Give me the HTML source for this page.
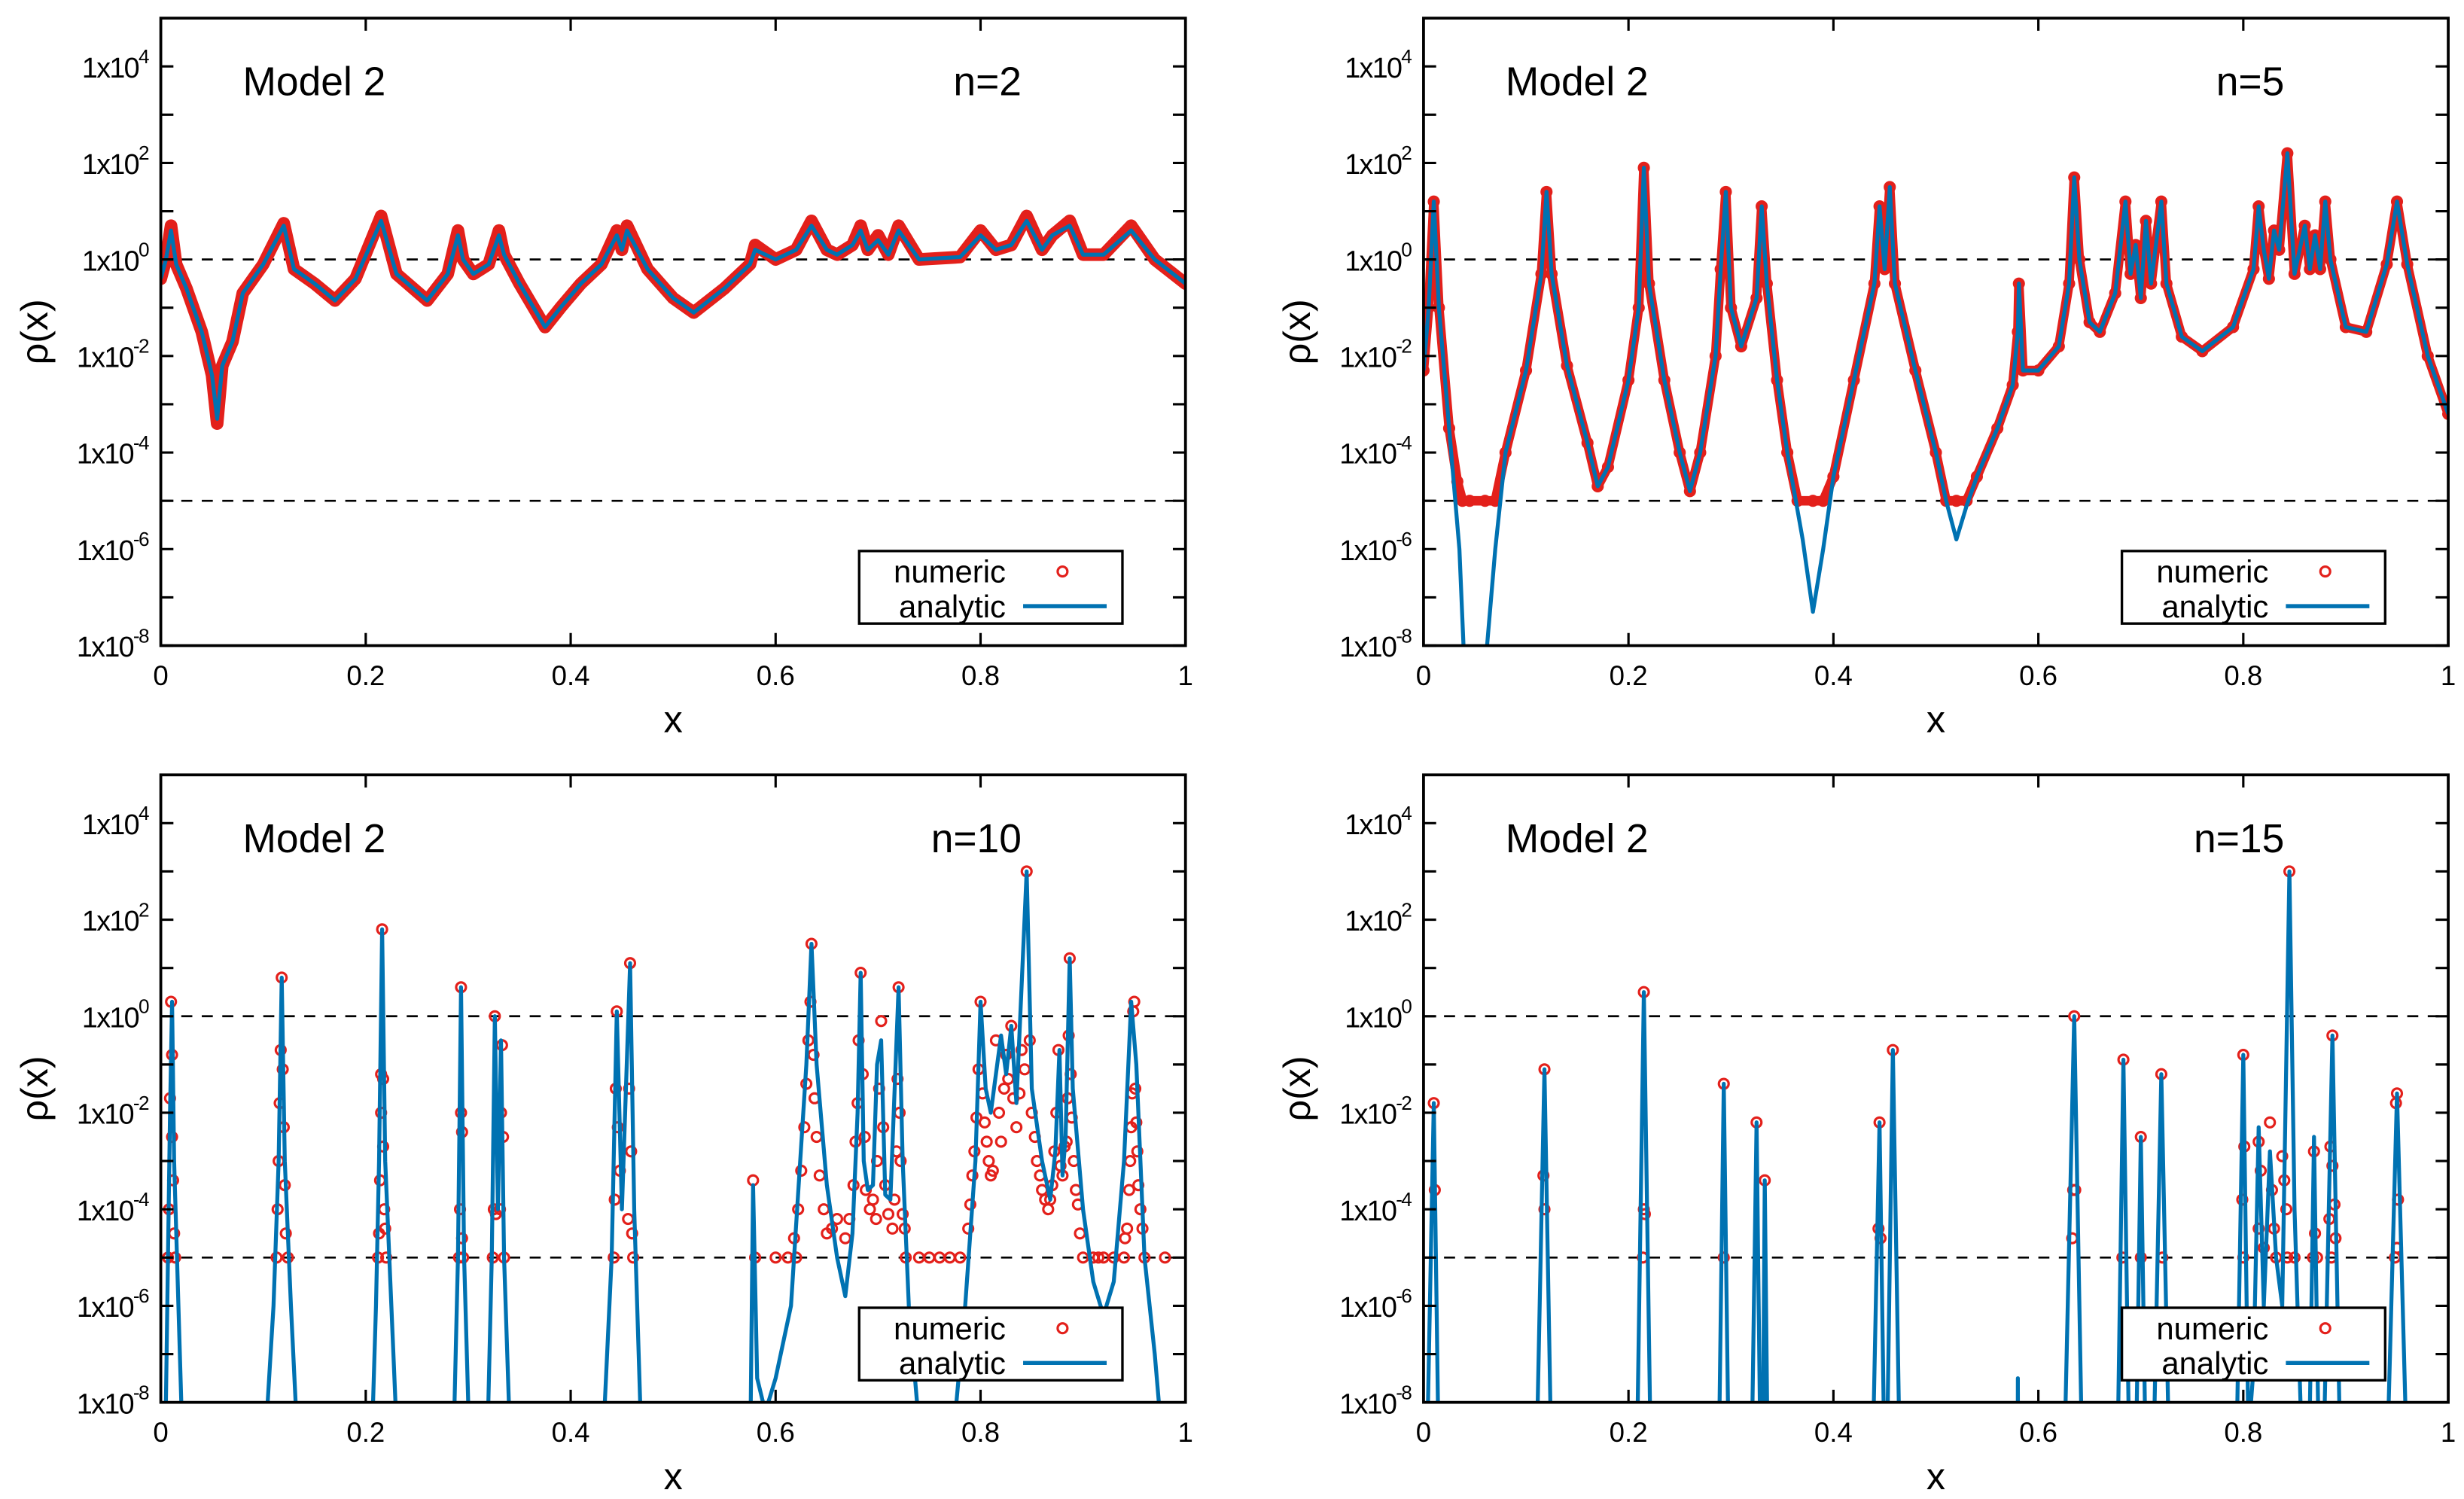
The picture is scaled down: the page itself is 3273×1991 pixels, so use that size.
<!DOCTYPE html>
<html><head><meta charset="utf-8">
<style>
html,body{margin:0;padding:0;background:#fff;}
svg{display:block;}
text{font-family:"Liberation Sans",Arial,sans-serif;fill:#000;}
</style></head>
<body>
<svg id="chart" xmlns="http://www.w3.org/2000/svg" width="3273" height="1991" viewBox="0 0 1563 950.8" preserveAspectRatio="none">
<rect x="0" y="0" width="1563" height="951" fill="#fff"/>
</svg>
<script>
// ---------- data (x, log10 rho) ----------
const n2AnX   = [0,0.005,0.01,0.015,0.025,0.04,0.05,0.055,0.06,0.07,0.08,0.1,0.12,0.13,0.15,0.17,0.19,0.215,0.23,0.26,0.28,0.29,0.295,0.305,0.32,0.33,0.335,0.35,0.375,0.39,0.41,0.43,0.445,0.45,0.455,0.475,0.5,0.52,0.55,0.575,0.58,0.6,0.62,0.635,0.65,0.66,0.675,0.683,0.69,0.7,0.71,0.72,0.74,0.78,0.8,0.815,0.83,0.845,0.86,0.87,0.887,0.9,0.92,0.947,0.97,1];
const n2AnLog = [-0.4,0,0.6,-0.1,-0.6,-1.5,-2.4,-3.3,-2.2,-1.7,-0.7,-0.1,0.7,-0.2,-0.5,-0.85,-0.4,0.8,-0.3,-0.85,-0.3,0.5,0,-0.3,-0.1,0.5,0.1,-0.5,-1.4,-1,-0.5,-0.1,0.5,0.2,0.6,-0.2,-0.8,-1.1,-0.6,-0.1,0.2,0,0.2,0.7,0.2,0.1,0.3,0.6,0.2,0.4,0.1,0.6,0,0.05,0.5,0.2,0.3,0.8,0.2,0.5,0.7,0.1,0.1,0.6,0,-0.5];
const n2NuX   = n2AnX.slice();
const n2NuLog = [-0.4,0,0.7,-0.1,-0.6,-1.5,-2.4,-3.4,-2.2,-1.7,-0.7,-0.1,0.75,-0.2,-0.5,-0.85,-0.4,0.9,-0.3,-0.85,-0.3,0.6,0,-0.3,-0.1,0.6,0.1,-0.5,-1.4,-1,-0.5,-0.1,0.6,0.2,0.7,-0.2,-0.8,-1.1,-0.6,-0.1,0.3,0,0.2,0.8,0.2,0.1,0.3,0.7,0.2,0.5,0.1,0.7,0,0.05,0.6,0.2,0.3,0.9,0.2,0.5,0.8,0.1,0.1,0.7,0,-0.5];

const n5AnX   = [0,0.005,0.01,0.015,0.025,0.035,0.04,0.06,0.07,0.08,0.1,0.115,0.12,0.125,0.14,0.16,0.17,0.18,0.2,0.21,0.215,0.22,0.235,0.25,0.26,0.27,0.285,0.29,0.295,0.3,0.31,0.325,0.33,0.335,0.345,0.355,0.37,0.38,0.39,0.4,0.42,0.44,0.445,0.45,0.455,0.46,0.48,0.5,0.51,0.52,0.53,0.54,0.56,0.575,0.58,0.581,0.585,0.6,0.62,0.63,0.635,0.64,0.65,0.66,0.675,0.685,0.69,0.695,0.7,0.705,0.71,0.72,0.725,0.74,0.76,0.79,0.81,0.815,0.82,0.825,0.83,0.835,0.843,0.85,0.86,0.865,0.87,0.875,0.88,0.885,0.9,0.92,0.94,0.95,0.96,0.98,1];
const n5AnLog = [-2.3,-1,1.2,-1,-3.5,-6,-8.5,-8.5,-6,-4,-2.3,-0.3,1.4,-0.3,-2.2,-3.8,-4.7,-4.3,-2.5,-1,1.9,-0.5,-2.5,-4,-4.8,-4,-2,-0.2,1.4,-1,-1.8,-0.8,1.1,-0.5,-2.5,-4,-5.8,-7.3,-6,-4.5,-2.5,-0.5,1.1,-0.2,1.5,-0.5,-2.3,-4,-5,-5.8,-5.1,-4.5,-3.5,-2.6,-1.5,-0.5,-2.3,-2.3,-1.8,-0.5,1.7,0,-1.3,-1.5,-0.7,1.2,-0.3,0.3,-0.8,0.8,-0.5,1.2,-0.5,-1.6,-1.9,-1.4,-0.2,1.1,0.2,-0.4,0.6,0.2,2.2,-0.3,0.7,-0.2,0.5,-0.2,1.2,0,-1.4,-1.5,-0.1,1.2,-0.1,-2,-3.2];
const n5NuX   = [0,0.005,0.01,0.015,0.025,0.033,0.038,0.045,0.06,0.07,0.08,0.1,0.115,0.12,0.125,0.14,0.16,0.17,0.18,0.2,0.21,0.215,0.22,0.235,0.25,0.26,0.27,0.285,0.29,0.295,0.3,0.31,0.325,0.33,0.335,0.345,0.355,0.365,0.38,0.39,0.4,0.42,0.44,0.445,0.45,0.455,0.46,0.48,0.5,0.51,0.52,0.53,0.54,0.56,0.575,0.58,0.581,0.585,0.6,0.62,0.63,0.635,0.64,0.65,0.66,0.675,0.685,0.69,0.695,0.7,0.705,0.71,0.72,0.725,0.74,0.76,0.79,0.81,0.815,0.82,0.825,0.83,0.835,0.843,0.85,0.86,0.865,0.87,0.875,0.88,0.885,0.9,0.92,0.94,0.95,0.96,0.98,1];
const n5NuLog = [-2.3,-1,1.2,-1,-3.5,-4.6,-5,-5,-5,-5,-4,-2.3,-0.3,1.4,-0.3,-2.2,-3.8,-4.7,-4.3,-2.5,-1,1.9,-0.5,-2.5,-4,-4.8,-4,-2,-0.2,1.4,-1,-1.8,-0.8,1.1,-0.5,-2.5,-4,-5,-5,-5,-4.5,-2.5,-0.5,1.1,-0.2,1.5,-0.5,-2.3,-4,-5,-5,-5,-4.5,-3.5,-2.6,-1.5,-0.5,-2.3,-2.3,-1.8,-0.5,1.7,0,-1.3,-1.5,-0.7,1.2,-0.3,0.3,-0.8,0.8,-0.5,1.2,-0.5,-1.6,-1.9,-1.4,-0.2,1.1,0.2,-0.4,0.6,0.2,2.2,-0.3,0.7,-0.2,0.5,-0.2,1.2,0,-1.4,-1.5,-0.1,1.2,-0.1,-2,-3.2];

const n10AnX   = [0,0.005,0.009,0.011,0.013,0.02,0.025,0.1,0.11,0.115,0.118,0.121,0.127,0.135,0.205,0.21,0.213,0.216,0.219,0.225,0.232,0.285,0.29,0.293,0.296,0.302,0.318,0.323,0.326,0.329,0.332,0.335,0.342,0.43,0.44,0.445,0.45,0.458,0.462,0.47,0.575,0.578,0.582,0.59,0.6,0.615,0.63,0.635,0.64,0.65,0.66,0.668,0.675,0.68,0.683,0.686,0.69,0.695,0.699,0.703,0.707,0.712,0.72,0.724,0.73,0.738,0.75,0.77,0.785,0.795,0.8,0.805,0.81,0.815,0.82,0.825,0.83,0.835,0.845,0.85,0.86,0.868,0.873,0.877,0.88,0.883,0.887,0.89,0.9,0.91,0.92,0.93,0.94,0.947,0.952,0.96,0.97,0.98,1];
const n10AnLog = [-9.5,-8,-2,0.3,-3,-8,-9.5,-9.5,-6,-3,0.8,-3,-6,-9.5,-9.5,-6,-3,1.8,-3,-6,-9.5,-9.5,-5,0.6,-5,-9.5,-9.5,-5,0,-4,-0.5,-5,-9.5,-9.5,-5,0.1,-4,1.1,-4,-9.5,-9.5,-3.5,-7.5,-8.2,-7.5,-6,-1,1.5,-1,-3.5,-5,-5.8,-4.5,-2,0.9,-3,-3.6,-3.5,-1,-0.5,-3.7,-3.8,0.6,-3,-6,-8,-9.5,-9.5,-6,-3,0.3,-1.5,-2,-1.2,-0.4,-1.2,-0.2,-1.8,3,-1.5,-3,-3.8,-2.8,-0.7,-3.3,-2.5,1.2,-1.5,-4,-5.5,-6.2,-5.5,-3,0.3,-1,-5,-7,-9.5,-9.5];
const n10NuX   = [0.01,0.011,0.009,0.011,0.012,0.008,0.013,0.007,0.014,0.118,0.117,0.119,0.116,0.12,0.115,0.121,0.114,0.122,0.113,0.124,0.216,0.215,0.217,0.215,0.217,0.214,0.218,0.213,0.219,0.212,0.22,0.293,0.293,0.294,0.292,0.294,0.291,0.295,0.326,0.333,0.332,0.334,0.325,0.327,0.331,0.324,0.335,0.445,0.458,0.444,0.446,0.448,0.443,0.457,0.459,0.456,0.46,0.442,0.461,0.578,0.58,0.6,0.612,0.62,0.74,0.75,0.76,0.77,0.78,0.9,0.91,0.915,0.92,0.93,0.96,0.98,0.635,0.634,0.632,0.637,0.63,0.638,0.628,0.64,0.625,0.643,0.622,0.647,0.618,0.65,0.655,0.66,0.683,0.681,0.685,0.68,0.687,0.678,0.676,0.688,0.692,0.672,0.668,0.695,0.703,0.701,0.705,0.699,0.707,0.71,0.698,0.72,0.719,0.721,0.718,0.722,0.716,0.724,0.726,0.714,0.727,0.8,0.798,0.802,0.796,0.804,0.794,0.806,0.792,0.808,0.79,0.81,0.788,0.812,0.815,0.818,0.82,0.823,0.825,0.827,0.83,0.832,0.835,0.838,0.84,0.843,0.845,0.848,0.85,0.853,0.855,0.858,0.86,0.863,0.866,0.868,0.87,0.872,0.874,0.876,0.878,0.88,0.882,0.887,0.886,0.888,0.885,0.889,0.884,0.891,0.893,0.895,0.897,0.95,0.949,0.951,0.948,0.952,0.947,0.953,0.946,0.954,0.945,0.956,0.943,0.958,0.941,0.94];
const n10NuLog = [0.3,-0.8,-1.7,-2.5,-3.4,-4,-4.5,-5,-5,0.8,-0.7,-1.1,-1.8,-2.3,-3,-3.5,-4,-4.5,-5,-5,1.8,-1.2,-1.3,-2,-2.7,-3.4,-4,-4.5,-4.4,-5,-5,0.6,-2,-2.4,-4,-4.6,-5,-5,0,-0.6,-2,-2.5,-4,-4.1,-4,-5,-5,0.1,1.1,-1.5,-2.3,-3.2,-3.8,-1.5,-2.8,-4.2,-4.5,-5,-5,-3.4,-5,-5,-5,-5,-5,-5,-5,-5,-5,-5,-5,-5,-5,-5,-5,-5,1.5,0.3,-0.5,-0.8,-1.4,-1.7,-2.3,-2.5,-3.2,-3.3,-4,-4,-4.6,-4.5,-4.4,-4.2,0.9,-0.5,-1.2,-1.8,-2.5,-2.6,-3.5,-3.6,-4,-4.2,-4.6,-3.8,-0.1,-1.5,-2.3,-3,-3.5,-4.1,-4.2,0.6,-1.3,-2,-2.8,-3,-3.8,-4.1,-4.4,-4.4,-5,0.3,-1.1,-1.6,-2.1,-2.2,-2.8,-2.6,-3.3,-3,-3.9,-3.3,-4.4,-3.2,-0.5,-2,-2.6,-1.5,-0.8,-1.3,-0.2,-1.7,-2.3,-1.6,-0.7,-1.1,3,-0.5,-2,-2.5,-3,-3.3,-3.6,-3.8,-4,-3.8,-3.5,-2.8,-2,-0.7,-3.1,-3.3,-2.7,1.2,-0.4,-1.2,-1.7,-2.1,-2.6,-3,-3.6,-3.9,-4.5,0.3,0.1,-1.5,-1.6,-2.2,-2.3,-2.8,-3,-3.5,-3.6,-4,-4.4,-4.4,-4.6,-5];

const n15AnX   = [0,0.003,0.01,0.015,0.11,0.118,0.125,0.208,0.215,0.222,0.288,0.293,0.298,0.32,0.325,0.329,0.331,0.333,0.336,0.438,0.445,0.45,0.452,0.458,0.465,0.5799,0.58,0.5801,0.625,0.635,0.643,0.677,0.683,0.689,0.695,0.7,0.705,0.712,0.72,0.728,0.793,0.8,0.805,0.81,0.815,0.82,0.826,0.832,0.838,0.845,0.85,0.858,0.864,0.869,0.874,0.878,0.887,0.895,0.94,0.95,0.96,1];
const n15AnLog = [-9.5,-9.5,-1.8,-9.5,-9.5,-1.1,-9.5,-9.5,0.5,-9.5,-9.5,-1.4,-9.5,-9.5,-2.2,-9.5,-9.5,-3.4,-9.5,-9.5,-2.2,-9.5,-9.5,-0.7,-9.5,-9.5,-7.5,-9.5,-9.5,0,-9.5,-9.5,-0.9,-9.5,-9.5,-2.5,-9.5,-9.5,-1.2,-9.5,-9.5,-0.8,-8.7,-7.3,-2.3,-6,-2.8,-5,-6,3,-4,-9.5,-9.5,-2.5,-9.5,-9.5,-0.4,-9.5,-9.5,-1.6,-9.5,-9.5];
const n15NuX   = [0.01,0.011,0.118,0.117,0.118,0.215,0.215,0.216,0.214,0.293,0.293,0.325,0.333,0.445,0.444,0.446,0.458,0.635,0.634,0.636,0.633,0.683,0.682,0.7,0.7,0.72,0.721,0.8,0.801,0.799,0.8,0.815,0.815,0.817,0.82,0.826,0.828,0.83,0.832,0.838,0.84,0.842,0.845,0.843,0.85,0.869,0.87,0.868,0.872,0.887,0.885,0.887,0.889,0.884,0.89,0.886,0.95,0.949,0.951,0.95,0.948];
const n15NuLog = [-1.8,-3.6,-1.1,-3.3,-4,0.5,-4,-4.1,-5,-1.4,-5,-2.2,-3.4,-2.2,-4.4,-4.6,-0.7,0,-3.6,-3.6,-4.6,-0.9,-5,-2.5,-5,-1.2,-5,-0.8,-2.7,-3.8,-5,-2.6,-4.4,-3.2,-4.8,-2.2,-3.6,-4.4,-5,-2.9,-3.4,-4,3,-5,-5,-2.8,-4.5,-5,-5,-0.4,-2.7,-3.1,-3.9,-4.2,-4.6,-5,-1.6,-1.8,-3.8,-4.8,-5];

const xTicks = [0,0.2,0.4,0.6,0.8,1];
const xTickLabels = ["0","0.2","0.4","0.6","0.8","1"];
const yMajorExp = [-8,-6,-4,-2,0,2,4];
const yMinorExp = [-7,-5,-3,-1,1,3];
const dashedLevels = [0,-5];
const panelTitles = ["n=2","n=5","n=10","n=15"];

// ---------- drawing ----------
const NS = "http://www.w3.org/2000/svg";
const svg = document.getElementById("chart");
const PW = 650, PH = 398, YMIN = -8, YMAX = 5;
function el(tag, attrs, parent){ const e=document.createElementNS(NS,tag); for(const k in attrs) e.setAttribute(k,attrs[k]); (parent||svg).appendChild(e); return e; }

function drawPanel(idx, x0, y0, anX, anLog, nuX, nuLog, dense){
  const sx = v => x0 + v*PW;
  const sy = l => y0 + PH - (l - YMIN)/(YMAX - YMIN)*PH;
  const g = el("g", {});
  
  
  const cid = "clip"+idx;
  const cp = el("clipPath",{id:cid}, g);
  el("rect",{x:x0,y:y0,width:PW,height:PH},cp);

  dashedLevels.forEach(l=>{
    const d = el("line",{x1:x0,x2:x0+PW,y1:sy(l),y2:sy(l),stroke:"#000","stroke-width":1.3,"stroke-dasharray":"7,6"},g);
    
    
  });

  const data = el("g",{"clip-path":"url(#"+cid+")"},g);
  const ng = el("g",{},data);
  
  
  if(dense){
    const pts = nuX.map((v,i)=>sx(v).toFixed(2)+","+sy(nuLog[i]).toFixed(2)).join(" ");
    const pl = el("polyline",{points:pts,fill:"none",stroke:"#e3201b","stroke-width":dense,"stroke-linejoin":"round","stroke-linecap":"round"},ng);
    
    
  }
  nuX.forEach((v,i)=>{
    const c = el("circle",{cx:sx(v),cy:sy(nuLog[i]),r:3.1,fill:"none",stroke:"#e3201b","stroke-width":1.5},ng);
    
    
  });
  const apts = anX.map((v,i)=>sx(v).toFixed(2)+","+sy(anLog[i]).toFixed(2)).join(" ");
  const ap = el("polyline",{points:apts,fill:"none",stroke:"#0072b2","stroke-width":2.5,"stroke-linejoin":"round"},data);
  
  

  const fr = el("rect",{x:x0,y:y0,width:PW,height:PH,fill:"none",stroke:"#000","stroke-width":1.8},g);
  
  

  xTicks.forEach((v,i)=>{
    el("line",{x1:sx(v),x2:sx(v),y1:y0+PH,y2:y0+PH-8,stroke:"#000","stroke-width":1.5},g);
    el("line",{x1:sx(v),x2:sx(v),y1:y0,y2:y0+8,stroke:"#000","stroke-width":1.5},g);
    const t = el("text",{x:sx(v),y:y0+PH+25,"text-anchor":"middle","font-size":17.5},g);
    t.textContent = xTickLabels[i];
    
    
  });
  yMinorExp.concat(yMajorExp).forEach(e=>{
    el("line",{x1:x0,x2:x0+8,y1:sy(e),y2:sy(e),stroke:"#000","stroke-width":1.5},g);
    el("line",{x1:x0+PW,x2:x0+PW-8,y1:sy(e),y2:sy(e),stroke:"#000","stroke-width":1.5},g);
  });
  yMajorExp.forEach(e=>{
    const t = el("text",{x:x0-8,y:sy(e)+7,"text-anchor":"end","font-size":18,"letter-spacing":"-0.8"},g);
    
    
    t.appendChild(document.createTextNode("1x10"));
    const sp = el("tspan",{dy:-9,"font-size":12.5},t);
    sp.textContent = String(e);
  });
  const yt = el("text",{x:0,y:0,transform:"translate("+(x0-72)+","+(y0+PH/2)+") rotate(-90)","text-anchor":"middle","font-size":24},g);
  yt.textContent = "ρ(x)";
  
  
  const xt = el("text",{x:x0+PW/2,y:y0+PH+55,"text-anchor":"middle","font-size":24},g);
  xt.textContent = "x";
  
  
  const m = el("text",{x:x0+52,y:y0+49,"font-size":25.5},g);
  m.textContent = "Model 2";
  
  
  const nl = el("text",{x:x0+546,y:y0+49,"text-anchor":"end","font-size":25.5},g);
  nl.textContent = panelTitles[idx];
  
  
  const lg = el("g",{},g);
  
  
  el("rect",{x:x0+443,y:y0+338,width:167,height:46,fill:"#fff",stroke:"#000","stroke-width":1.6},lg);
  const l1 = el("text",{x:x0+536,y:y0+358,"text-anchor":"end","font-size":20},lg);
  l1.textContent = "numeric";
  
  
  el("circle",{cx:x0+572,cy:y0+351,r:3.1,fill:"none",stroke:"#e3201b","stroke-width":1.5},lg);
  const l2 = el("text",{x:x0+536,y:y0+380,"text-anchor":"end","font-size":20},lg);
  l2.textContent = "analytic";
  
  
  el("line",{x1:x0+547,x2:x0+600,y1:y0+373,y2:y0+373,stroke:"#0072b2","stroke-width":2.6},lg);
}

drawPanel(0, 102, 11.5, n2AnX, n2AnLog, n2NuX, n2NuLog, 8);
drawPanel(1, 903, 11.5, n5AnX, n5AnLog, n5NuX, n5NuLog, 6);
drawPanel(2, 102, 491.5, n10AnX, n10AnLog, n10NuX, n10NuLog, 0);
drawPanel(3, 903, 491.5, n15AnX, n15AnLog, n15NuX, n15NuLog, 0);
</script>
</body></html>
